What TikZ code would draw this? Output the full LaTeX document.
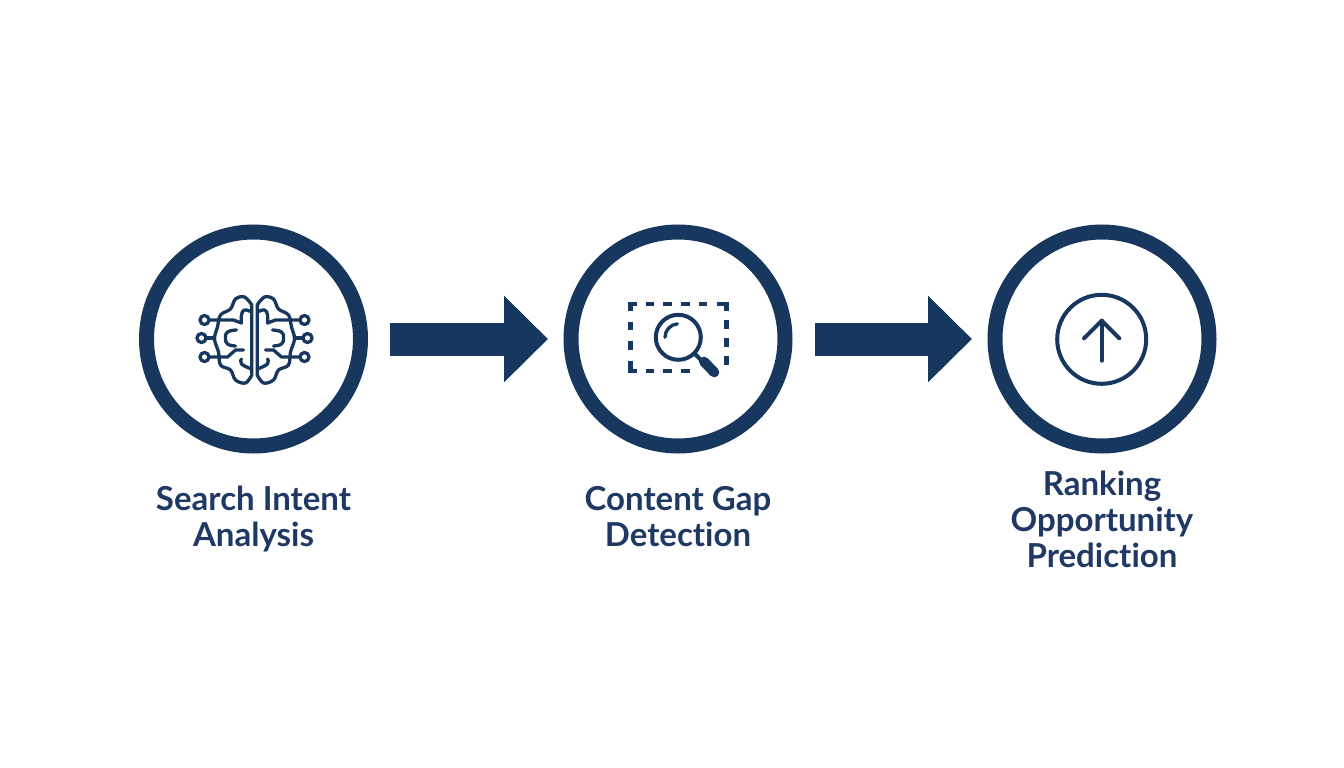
\documentclass[tikz,border=0pt]{standalone}
\usepackage{fontspec}
\setmainfont{Lato}[Ligatures=NoCommon]
\usepackage{xcolor}
\usepackage{tikz}
\usetikzlibrary{arrows.meta,positioning}
\definecolor{navy}{HTML}{17375E}
\definecolor{labelnavy}{HTML}{1F3864}

% half of the brain, drawn to the left of the origin
\newcommand{\brainhalf}{%
    \draw[iconline] (-2.7,-30) -- (-2.7,-34) plot[smooth, tension=.6] coordinates {(-2.7,-34) (-10,-42) (-19,-40) (-24,-30) (-34,-24) (-37,-12) (-40,0) (-36,13) (-34,26) (-24,31) (-19,41) (-9,44) (-2.7,36)} -- cycle;
    \draw[iconline] (-45.5,-19) -- (-21,-19) -- (-13,-16);
    \draw[iconline] (-48.5,-1) -- (-40,-1);
    \draw[iconline] (-45.5,18) -- (-27,18) -- (-19,11) -- (-11,11);
    \draw[iconline] plot[smooth, tension=.8] coordinates {(-18,-9) (-27,-7) (-29,-1) (-27,5) (-19,7)};
    \draw[iconline] plot[smooth, tension=.8] coordinates {(-3,-27) (-10,-29) (-13,-24) (-13,-16)};
    \draw[iconline] plot[smooth, tension=.8] coordinates {(-13,20) (-13,25) (-3,30)};
    \draw[iconline] (-50,-19) circle (4.5);
    \draw[iconline] (-53,-1) circle (4.5);
    \draw[iconline] (-50,18) circle (4.5);
}

\begin{document}
\begin{tikzpicture}[x=1pt, y=-1pt,
    ring/.style={circle, draw=navy, line width=15pt, minimum size=214pt, inner sep=0pt},
    flow/.style={draw=navy, line width=33pt, -{Triangle[length=44pt, width=84pt]}, shorten <=22pt, shorten >=15.5pt},
    caption/.style={text=labelnavy, font=\fontsize{33}{36}\selectfont\bfseries, align=center, inner sep=0pt},
    iconline/.style={draw=navy, line width=3.3pt, line cap=round, line join=round},
    glassline/.style={draw=navy, line width=4pt, line cap=round},
    edgedash/.style={draw=navy, line width=4.5pt}]
    \useasboundingbox (0,0) rectangle (1344,768);

    \node [ring] (search) at (253.5,339) {};
    \node [ring, right=195.5pt of search] (gap) {};
    \node [ring, right=195pt of gap] (rank) {};

    \node [caption, below=32.5pt of search] (searchtext) {Search Intent\\Analysis};
    \node [caption, below=32.5pt of gap] (gaptext) {Content Gap\\Detection};
    \node [caption, below=17.5pt of rank] (ranktext) {Ranking\\Opportunity\\Prediction};

    \path [flow] (search) -- (gap);
    \path [flow] (gap) -- (rank);

    % brain
    \begin{scope}[shift={(254.5,339)}]
        \brainhalf
        \begin{scope}[xscale=-1]
            \brainhalf
        \end{scope}
    \end{scope}

    % dashed box and magnifier
    \draw[edgedash, dash pattern=on 8.5pt off 9.2pt] (628,304.2) -- (729,304.2);
    \draw[edgedash, dash pattern=on 8.5pt off 11pt] (630.3,302) -- (630.3,373);
    \draw[edgedash, dash pattern=on 8.5pt off 9.2pt] (628,370.8) -- (693,370.8);
    \draw[edgedash, dash pattern=on 8.5pt off 9.5pt] (726.7,302) -- (726.7,366);
    \draw[glassline] (678.3,337.3) circle (22.5);
    \draw[iconline] (665,337.3) arc (180:265:13.5);
    \draw[glassline] (695,354) -- (703,362);
    \draw[navy, line width=10pt, line cap=round] (704,361.7) -- (714.3,372.3);

    % arrow in a circle
    \draw[glassline] (1101.7,339.3) circle (44.5);
    \draw[glassline, line join=round] (1084,338.3) -- (1101.7,320.7) -- (1119.3,338.3);
    \draw[glassline] (1101.7,320.7) -- (1101.7,360.7);
\end{tikzpicture}
\end{document}
